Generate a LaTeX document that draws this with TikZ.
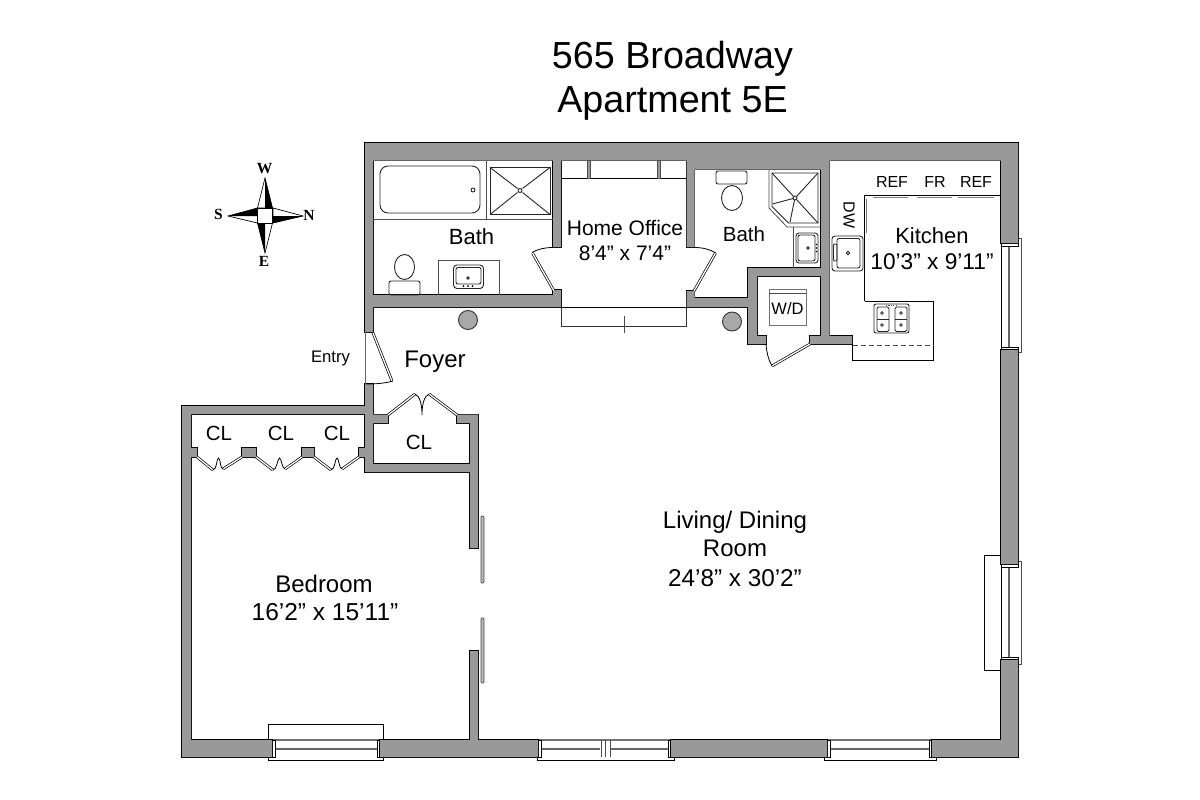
\documentclass[tikz,border=0pt]{standalone}
\usepackage{fontspec}
\setmainfont{Liberation Sans}
\newfontfamily\compassfont{Liberation Serif}
\definecolor{wallgray}{HTML}{999999}
\tikzset{
  thinline/.style={draw=black,line width=0.8pt},
  fixture/.style={draw=black!85,line width=0.9pt},
  leaf/.style={draw=black,line width=0.7pt,double=white,double distance=1.3pt},
  glass/.style={draw=black!60,line width=2pt},
  grayline/.style={draw=black!55,line width=1.2pt},
  lbl/.style={anchor=base,inner sep=0pt,align=center},
  cmp/.style={inner sep=0pt,font=\compassfont\bfseries\fontsize{15.5}{15.5}\selectfont},
}
\newcommand{\fs}[1]{\fontsize{#1}{#1}\selectfont}
\def\wallpath{
  (365,143) rectangle (1018,160.5)
  (686.5,143) rectangle (829.5,169.5)
  (365,143) rectangle (373,332)
  (365,384) rectangle (373,472)
  (182,406) rectangle (373,414)
  (182,406) rectangle (191,757)
  (182,740) rectangle (272,757)
  (380,740) rectangle (538,757)
  (671,740) rectangle (827,757)
  (932,740) rectangle (1018,757)
  (1001,143) rectangle (1018,243)
  (1001,350) rectangle (1018,564)
  (1001,660) rectangle (1018,757)
  (191,448) rectangle (197,457)
  (242,448) rectangle (256,457)
  (302,448) rectangle (314,457)
  (359,448) rectangle (365,457)
  (373,414.5) rectangle (388,423)
  (457,414.5) rectangle (478,423)
  (470,414.5) rectangle (478,548)
  (470,651) rectangle (478,740)
  (373,464) rectangle (470,472)
  (365,295) rectangle (553,307)
  (553,290) rectangle (561,307)
  (553,143) rectangle (561,247)
  (686.5,143) rectangle (694.5,247)
  (686.5,291) rectangle (694.5,307)
  (694.5,298) rectangle (748,307)
  (748,268) rectangle (757,344)
  (748,268) rectangle (821,276)
  (748,336) rectangle (766,344)
  (810,336) rectangle (852,344)
  (821,143) rectangle (829.5,344)
}
\begin{document}
\begin{tikzpicture}[x=1pt,y=-1pt]
\useasboundingbox (0,0) rectangle (1200,800);
\fill[white] (0,0) rectangle (1200,800);

% window glass, jambs and trims
\foreach \a/\b/\ta/\tb in {272/380/268/383, 538/671/537/674, 827/932/824/936}{
  \draw[grayline] (\a,740) -- (\b,740);
  \draw[glass] (\a+3,748.5) -- (\b-3,748.5);
  \draw[thinline] (\a,740) rectangle (\a+3,757);
  \draw[thinline] (\b-3,740) rectangle (\b,757);
  \draw[thinline] (\ta,757) -- (\ta,760.7) -- (\tb,760.7) -- (\tb,757);
}
\draw[thinline] (268,740) -- (268,724) -- (383,724) -- (383,740);
\fill[white] (600,742) rectangle (611,757);
\foreach \x in {601,605,610}{\draw[thinline,draw=black!70] (\x,740) -- (\x,757);}
% right-hand windows
\foreach \a/\b/\ta/\tb in {243/350/238/352, 564/660/561/664}{
  \draw[thinline] (1001,\a) -- (1001,\b);
  \draw[glass] (1009,\a+3) -- (1009,\b-3);
  \draw[thinline] (1001,\a) rectangle (1018,\a+3);
  \draw[thinline] (1001,\b-3) rectangle (1018,\b);
  \draw[thinline,draw=black!70] (1018,\ta) -- (1021,\ta) -- (1021,\tb) -- (1018,\tb);
}
\draw[thinline] (1001,555) -- (984,555) -- (984,670) -- (1001,670);

% walls: outline first, then fill on top so that seams vanish
\draw[black,line width=1.8pt,line join=miter] \wallpath;
\fill[wallgray] \wallpath;

% entry door
\draw[thinline,draw=black!60] (365,332) -- (365,384);
\draw[leaf] (373,333) -- (392,381);
\draw[thinline] (393,381) .. controls (384,383.5) and (375,384) .. (365.5,384);

% closet doors, bedroom
\foreach \a/\p/\h/\q/\b in {197/213/218.5/223/242, 256/273/279.5/285/302, 314/331/337/342/359}{
  \draw[leaf] (\a,457) -- (\p,470);
  \draw[leaf] (\q,469) -- (\b,457);
  \draw[thinline] (\p,470) .. controls (\p+4,470) and (\h-2,458) .. (\h,458) .. controls (\h+2,458) and (\q-3,469) .. (\q,469);
}
% CL door
\draw[leaf] (388,415) -- (415,394);
\draw[leaf] (429,394) -- (457,415);
\draw[thinline] (415,394) .. controls (420,396) and (422,405) .. (422,415) .. controls (422,405) and (424,396) .. (429,394);

% sliding doors
\draw[draw=black!70,fill=wallgray!70,line width=0.7pt,rounded corners=0.8pt] (481,516) rectangle (484,583);
\draw[draw=black!70,fill=wallgray!70,line width=0.7pt,rounded corners=0.8pt] (481,618) rectangle (484,683);

% bath 1
\draw[thinline,draw=black!70] (373,219) -- (553,219) (486.5,160.5) -- (486.5,219);
\draw[fixture,rounded corners=8pt] (380,166) rectangle (480,213);
\draw[fixture] (473,190) circle (2pt);
\draw[fixture] (490,167.5) rectangle (550,214.5);
\draw[fixture] (520,190.5) circle (2pt);
\draw[fixture] (490,167.5) -- (517.5,188.5) (550,167.5) -- (522.5,188.5) (490,214.5) -- (517.5,192.5) (550,214.5) -- (522.5,192.5);
\draw[fixture] (404.5,267) ellipse (10pt and 12.5pt);
\draw[fixture,rounded corners=2pt] (389,281) rectangle (420,295);
\draw[thinline,draw=black!70] (438,295) -- (438,260.5) -- (499,260.5) -- (499,295);
\draw[fixture,rounded corners=3.5pt] (453.5,265) rectangle (483.5,288.5);
\draw[fixture,rounded corners=2pt] (456,267.5) rectangle (481,284);
\draw[fixture] (468,278) circle (1.3pt);
\foreach \x in {463.5,468,472.5}{\fill (\x,286.2) circle (1pt);}

% home office
\draw[leaf] (532.5,253) -- (554,291);
\draw[thinline] (532,252.5) .. controls (538,249) and (545,247.5) .. (553,247.5);
\draw[leaf] (715.5,253) -- (694,291);
\draw[thinline] (716,253) .. controls (710,249.5) and (703,247.5) .. (694.5,247.5);
\draw[thinline] (561,178) -- (686.5,178);
\foreach \x in {587,657}{\draw[thinline,draw=black!70,fill=wallgray] (\x,160.5) rectangle (\x+3,178);}
\draw[thinline,draw=black!80] (561,307) -- (561,326) -- (686.5,326) -- (686.5,307);
\draw[thinline] (561,307) -- (686.5,307);
\draw[thinline,draw=black!70] (624,316) -- (624,333);

% columns
\draw[black!80,fill=wallgray!85,line width=0.9pt] (468,320) circle (9.5pt);
\draw[black!80,fill=wallgray!85,line width=0.9pt] (732,321.5) circle (9.5pt);

% bath 2
\draw[thinline,draw=black!70] (769,170) -- (769,208) -- (787,227) -- (821,227);
\draw[fixture] (772,173) -- (818,173) -- (818,223) -- (788.5,223) -- (772,206.5) -- cycle;
\draw[fixture] (795,198) circle (2pt);
\draw[fixture] (772,173) -- (793.5,196.5) (818,173) -- (796.5,196.5) (818,223) -- (796.5,199.5) (790,222) -- (794.5,200) (772.5,204) -- (793,198.5);
\draw[fixture,rounded corners=2pt] (716,171) rectangle (747,184);
\draw[fixture] (732,198) ellipse (10.5pt and 12.5pt);
\draw[thinline,draw=black!70] (793,227) -- (793,268);
\draw[fixture,rounded corners=3pt] (796,233) rectangle (818,263);
\draw[fixture,rounded corners=2pt] (798,235) rectangle (815,261);
\draw[fixture] (808,248) circle (1.3pt);
\foreach \y in {244.5,248,251.5}{\fill (816.5,\y) circle (0.9pt);}

% laundry
\draw[leaf] (772,366) -- (810,344);
\draw[thinline] (766,344) .. controls (766.5,352) and (768.5,360) .. (772,366);
\draw[black!55,line width=1pt,fill=white] (769,289) rectangle (806,325);
\draw[black!70,line width=1pt] (769,293) -- (806,293);

% kitchen
\draw[thinline] (864.5,301) -- (864.5,195.7) -- (1001,195.7);
\draw[thinline] (864.5,301) -- (933,301) -- (933,360) -- (852.5,360) -- (852.5,344);
\draw[thinline,draw=black!70,dashed,dash pattern=on 5pt off 3pt] (852.5,345) -- (933,345);
\foreach \a/\b in {873/908,917/952,958/994}{
  \draw[thinline,draw=black!50,line width=1pt] (\a,197) -- (\b,197);
  \draw[black!50,line width=1.6pt] (\a+12,197.3) -- (\b-12,197.3);
}
\draw[black!55,line width=1.4pt] (866.5,199) -- (866.5,233);
\draw[fixture,rounded corners=3pt] (832,236) rectangle (863,271);
\draw[fixture,rounded corners=2pt] (837,238.5) rectangle (860,268);
\draw[fixture,rounded corners=1pt] (833.5,244) rectangle (837,261);
\draw[fixture] (848,253) circle (1.8pt);
\draw[fixture,rounded corners=2pt] (874,304) rectangle (909,333);
\draw[fixture,rounded corners=1.5pt] (877,307) rectangle (889,331.5);
\draw[fixture,rounded corners=1.5pt] (895,307) rectangle (907,331.5);
\draw[fixture] (877,319) -- (889,319) (895,319) -- (907,319);
\foreach \x/\y in {882/313,882/325,901/313,901/325}{\draw[fixture,line width=0.7pt] (\x,\y) circle (1.4pt);}
\draw[black!70,line width=1.2pt,dash pattern=on 1.2pt off 1.2pt] (886,305.5) -- (898,305.5);

% compass
\draw[black,line width=0.7pt,fill=white] (265,178) -- (257.5,208) -- (272.5,208) -- cycle;
\fill[black] (265,178) -- (265,208) -- (272.5,208) -- cycle;
\draw[black,line width=0.7pt,fill=white] (303,216) -- (273,208) -- (273,223) -- cycle;
\fill[black] (303,216) -- (273,216) -- (273,223) -- cycle;
\draw[black,line width=0.7pt,fill=white] (265,253) -- (257.5,223) -- (272.5,223) -- cycle;
\fill[black] (265,253) -- (265,223) -- (257.5,223) -- cycle;
\draw[black,line width=0.7pt,fill=white] (228,216) -- (257.5,208) -- (257.5,223) -- cycle;
\fill[black] (228,216) -- (257.5,216) -- (257.5,208) -- cycle;
\draw[black,line width=0.7pt,fill=white] (257.5,208) rectangle (272.5,223);
\node[cmp] (cW) at (264.5,168.5) {W};
\node[cmp] (cN) at (309,215.5) {N};
\node[cmp] (cE) at (264,261) {E};
\node[cmp] (cS) at (218.5,214.5) {S};

% texts
\node[lbl,font=\fs{37.7}] (t1) at (672.5,68.5) {565 Broadway};
\node[lbl,font=\fs{37.7}] (t2) at (672.5,113) {Apartment 5E};
\node[lbl,font=\fs{22}] (bath1) at (471.5,244) {Bath};
\node[lbl,font=\fs{21}] (off1) at (625,235) {Home Office};
\node[lbl,font=\fs{21}] (off2) at (625,260) {8’4” x 7’4”};
\node[lbl,font=\fs{20.5}] (bath2) at (744,241) {Bath};
\node[lbl,font=\fs{22}] (kit1) at (932,243) {Kitchen};
\node[lbl,font=\fs{22.7}] (kit2) at (932,269) {10’3” x 9’11”};
\node[lbl,font=\fs{16}] (ref1) at (892,187) {REF};
\node[lbl,font=\fs{16}] (fr) at (935,187) {FR};
\node[lbl,font=\fs{16}] (ref2) at (976,187) {REF};
\node[inner sep=0pt,rotate=-90,font=\fs{16}] (dw) at (849,215) {DW};
\node[lbl,font=\fs{16.5}] (wd) at (787.5,314) {W/D};
\node[lbl,font=\fs{16.7}] (entry) at (330.5,362) {Entry};
\node[lbl,font=\fs{24}] (foyer) at (435,367) {Foyer};
\node[lbl,font=\fs{20.5}] (cl1) at (219,440) {CL};
\node[lbl,font=\fs{20.5}] (cl2) at (281,440) {CL};
\node[lbl,font=\fs{20.5}] (cl3) at (337,440) {CL};
\node[lbl,font=\fs{20.5}] (cl4) at (419,449) {CL};
\node[lbl,font=\fs{24}] (bed1) at (324,592) {Bedroom};
\node[lbl,font=\fs{24.5}] (bed2) at (325,620.5) {16’2” x 15’11”};
\node[lbl,font=\fs{24}] (liv1) at (735,528) {Living/ Dining};
\node[lbl,font=\fs{24}] (liv2) at (735,556) {Room};
\node[lbl,font=\fs{24.3}] (liv3) at (735,586) {24’8” x 30’2”};
\end{tikzpicture}
\end{document}
